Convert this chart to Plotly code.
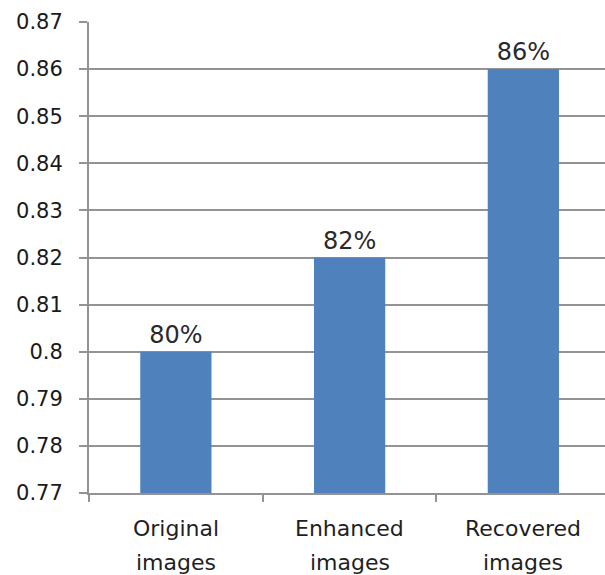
import plotly.graph_objects as go

categories = ["Original images", "Enhanced images", "Recovered images"]
line1 = ["Original", "Enhanced", "Recovered"]
line2 = ["images", "images", "images"]
values = [0.80, 0.82, 0.86]
labels = ["80%", "82%", "86%"]
ytickvals = [0.77, 0.78, 0.79, 0.80, 0.81, 0.82, 0.83, 0.84, 0.85, 0.86, 0.87]
yticktext = ["0.77", "0.78", "0.79", "0.8", "0.81", "0.82", "0.83", "0.84", "0.85", "0.86", "0.87"]

FONT = "DejaVu Sans"
fig = go.Figure()
fig.add_trace(go.Bar(
    x=categories, y=values, text=labels, textposition="outside",
    textfont=dict(family=FONT, size=24, color="#2a2a2a"),
    marker=dict(color="#4f81bd", line=dict(width=0)),
    cliponaxis=False,
))

annos = []
for c, a, b in zip(categories, line1, line2):
    annos.append(dict(x=c, y=0, xref="x", yref="paper", text=a, showarrow=False,
                      yanchor="middle", yshift=-35, font=dict(family=FONT, size=22, color="#1f1f1f")))
    annos.append(dict(x=c, y=0, xref="x", yref="paper", text=b, showarrow=False,
                      yanchor="middle", yshift=-69, font=dict(family=FONT, size=22, color="#1f1f1f")))

fig.update_layout(
    width=605, height=575,
    margin=dict(l=89, r=0, t=22, b=82),
    paper_bgcolor="white", plot_bgcolor="white",
    showlegend=False, bargap=0.59,
    annotations=annos,
    xaxis=dict(range=[-0.5, 2.47], showticklabels=False, ticks="outside", tickson="boundaries",
               ticklen=7, tickwidth=2, tickcolor="#939393", showline=True, linecolor="#939393",
               linewidth=2, showgrid=False),
    yaxis=dict(range=[0.77, 0.87], tickvals=ytickvals, ticktext=yticktext, ticks="outside",
               ticklen=8, tickwidth=2, tickcolor="#939393", showline=True, linecolor="#939393",
               linewidth=2, showgrid=True, gridcolor="#939393", gridwidth=2, zeroline=False,
               tickfont=dict(family=FONT, size=21, color="#1a1a1a"), ticklabelstandoff=12),
)
fig.write_html("out.html")
